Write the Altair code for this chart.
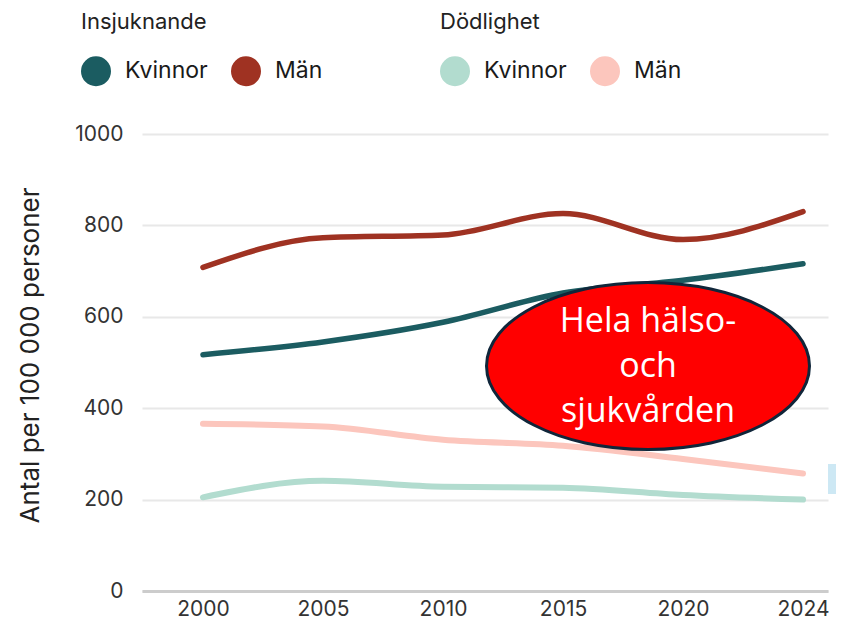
import json
import altair as alt
import pandas as pd

# ---- data ----
years = ["2000", "2005", "2010", "2015", "2020", "2024"]
ins_kvinnor = [517, 545, 588, 652, 680, 716]
ins_man = [708, 773, 779, 826, 769, 830]
dod_kvinnor = [205, 241, 228, 226, 210, 200]
dod_man = [366, 360, 331, 318, 289, 257]
sexes = ["Kvinnor", "Män"]
groups = ["Insjuknande", "Dödlighet"]
y_ticks = [0, 200, 400, 600, 800, 1000]
note_text = "Hela hälso-\noch\nsjukvården"

rows = []
for i, yr in enumerate(years):
    rows.append(dict(idx=i, year=yr, grupp="Insjuknande", kon="Kvinnor", varde=ins_kvinnor[i]))
    rows.append(dict(idx=i, year=yr, grupp="Insjuknande", kon="Män", varde=ins_man[i]))
    rows.append(dict(idx=i, year=yr, grupp="Dödlighet", kon="Kvinnor", varde=dod_kvinnor[i]))
    rows.append(dict(idx=i, year=yr, grupp="Dödlighet", kon="Män", varde=dod_man[i]))
df = pd.DataFrame(rows)
one = pd.DataFrame({"a": [0]})

FONT = "Inter"

x_enc = alt.X(
    "idx:Q",
    scale=alt.Scale(domain=[-0.508, 5.208], nice=False, zero=False),
    axis=alt.Axis(
        values=list(range(len(years))),
        labelExpr=json.dumps(years) + "[datum.value]",
        title=None, grid=False, ticks=False,
        domainColor="#cccccc", domainWidth=3,
        labelPadding=7, labelFontSize=21, labelColor="#333333", labelFont=FONT,
    ),
)
y_enc = alt.Y(
    "varde:Q",
    scale=alt.Scale(domain=[0, 1000], nice=False),
    axis=alt.Axis(
        values=y_ticks, format="d", title="Antal per 100 000 personer",
        grid=True, gridColor="#e8e8e8", gridWidth=2,
        ticks=False, domain=False,
        labelPadding=19, labelFontSize=21, labelColor="#333333", labelFont=FONT,
        titleX=-112, titleY=221, titleAngle=270, titleBaseline="middle",
        titleFontSize=26, titleFontWeight="normal", titleFont=FONT, titleColor="#222222",
    ),
)


def legend(title, lx, colpad):
    return alt.Legend(
        title=title, orient="none", legendX=lx, legendY=-122, direction="horizontal",
        symbolType="circle", symbolSize=225, symbolStrokeWidth=15,
        labelOffset=14, columnPadding=colpad, titlePadding=22,
        labelFont=FONT, labelFontSize=23, labelColor="#1a1a1a", labelLimit=300,
        titleFont=FONT, titleFontSize=22, titleFontWeight="normal", titleColor="#222222",
    )


dod = alt.Chart(df).transform_filter(alt.datum.grupp == groups[1]).mark_line(
    interpolate="monotone", strokeWidth=6, strokeCap="round"
).encode(
    x=x_enc, y=y_enc,
    color=alt.Color("kon:N", scale=alt.Scale(domain=sexes, range=["#b2dccf", "#fcc6bd"]),
                    legend=legend(groups[1], 298, 0)),
)

ins = alt.Chart(df).transform_filter(alt.datum.grupp == groups[0]).mark_line(
    interpolate="monotone", strokeWidth=5.5, strokeCap="round"
).encode(
    x=x_enc, y=y_enc,
    color=alt.Color("kon:N", scale=alt.Scale(domain=sexes, range=["#1b5c61", "#9f3222"]),
                    legend=legend(groups[0], -61, 0)),
)

blue_rect = alt.Chart(one).mark_rect(color="#cde8f4").encode(
    x=alt.value(686), x2=alt.value(702), y=alt.value(330), y2=alt.value(360)
)

ellipse_path = "M -1 0 A 1 0.517 0 1 0 1 0 A 1 0.517 0 1 0 -1 0 Z"
ellipse = alt.Chart(one).mark_point(
    shape=ellipse_path, size=323 * 323, filled=True, fill="#ff0000", fillOpacity=1,
    stroke="#10263a", strokeWidth=3, strokeOpacity=1, opacity=1,
).encode(x=alt.value(506), y=alt.value(232))

note = alt.Chart(one).mark_text(
    align="center", baseline="middle", lineBreak="\n", font="Open Sans",
    fontSize=34, lineHeight=45, color="white",
).encode(x=alt.value(506), y=alt.value(188), text=alt.value(note_text))

chart = alt.layer(dod, ins, blue_rect, ellipse, note).resolve_scale(
    color="independent"
).properties(
    width=686, height=457,
    autosize=alt.AutoSizeParams(type="none"),
    padding={"left": 134, "top": 126, "right": 8, "bottom": 33},
    background="white",
).configure_view(stroke=None)

chart.save("out.html", embed_options={"renderer": "svg", "actions": False})
